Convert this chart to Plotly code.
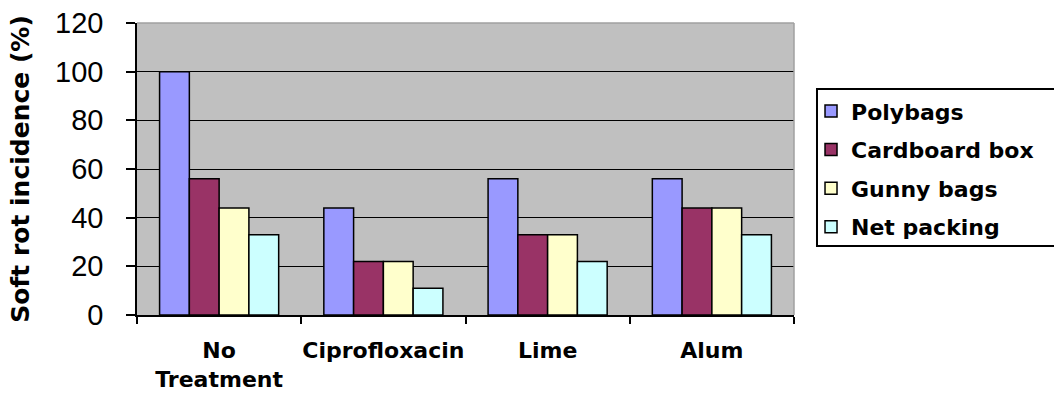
import plotly.graph_objects as go

# Treatments (x categories) and packing types (series)
treatments = ["No<br>Treatment", "Ciprofloxacin", "Lime", "Alum"]
polybags = [100, 44, 56, 56]
cardboard_box = [56, 22, 33, 44]
gunny_bags = [44, 22, 33, 44]
net_packing = [33, 11, 22, 33]

series = [
    ("Polybags", polybags, "#9999FF"),
    ("Cardboard box", cardboard_box, "#993366"),
    ("Gunny bags", gunny_bags, "#FFFFCC"),
    ("Net packing", net_packing, "#CCFFFF"),
]

fig = go.Figure()
for i, (name, vals, color) in enumerate(series):
    fig.add_trace(go.Bar(
        name=name,
        x=treatments,
        y=vals,
        legendgroup=f"g{i}",
        marker=dict(color=color, line=dict(color="black", width=1.5)),
    ))

label_font = dict(family="DejaVu Sans", size=22, color="black", weight="bold")

fig.update_layout(
    width=1054,
    height=397,
    margin=dict(l=137, r=260, t=23, b=82, autoexpand=False),
    paper_bgcolor="white",
    plot_bgcolor="#C0C0C0",
    barmode="group",
    bargap=0.275,
    bargroupgap=0,
    showlegend=True,
    legend=dict(
        x=1.0259, y=0.770, xanchor="left", yanchor="top",
        bgcolor="rgba(0,0,0,0)", borderwidth=0,
        font=dict(family="DejaVu Sans", size=22, color="black", weight="bold"),
        tracegroupgap=7,
        traceorder="grouped",
    ),
    xaxis=dict(
        type="category",
        tickson="boundaries",
        tickangle=0,
        ticks="outside", ticklen=7, tickwidth=1.5, tickcolor="black",
        showline=True, linecolor="black", linewidth=1.5,
        showgrid=False,
        tickfont=label_font,
        ticklabelstandoff=15,
    ),
    yaxis=dict(
        range=[0, 120], dtick=20,
        ticks="outside", ticklen=9, tickwidth=1.5, tickcolor="black",
        showline=True, linecolor="black", linewidth=1.5,
        showgrid=True, gridcolor="black", gridwidth=1.2,
        zeroline=False,
        tickfont=dict(family="Liberation Sans", size=29, color="black"),
        ticklabelstandoff=17,
        title=dict(text="Soft rot incidence (%)", standoff=18,
                   font=dict(family="DejaVu Sans", size=25, color="black", weight="bold")),
    ),
)

# light frame along the top and right edges of the plotting area
fig.add_shape(type="line", xref="paper", yref="paper", x0=0, x1=1, y0=1, y1=1,
              line=dict(color="#A0A0A0", width=1.5))
fig.add_shape(type="line", xref="paper", yref="paper", x0=1, x1=1, y0=0, y1=1,
              line=dict(color="#A0A0A0", width=1.5))
# legend frame, running off the right edge of the page
fig.add_shape(type="rect", xref="paper", yref="paper", x0=1.035, x1=1.45, y0=0.236, y1=0.774,
              line=dict(color="black", width=2), fillcolor="rgba(0,0,0,0)")

fig.write_html("out.html")
